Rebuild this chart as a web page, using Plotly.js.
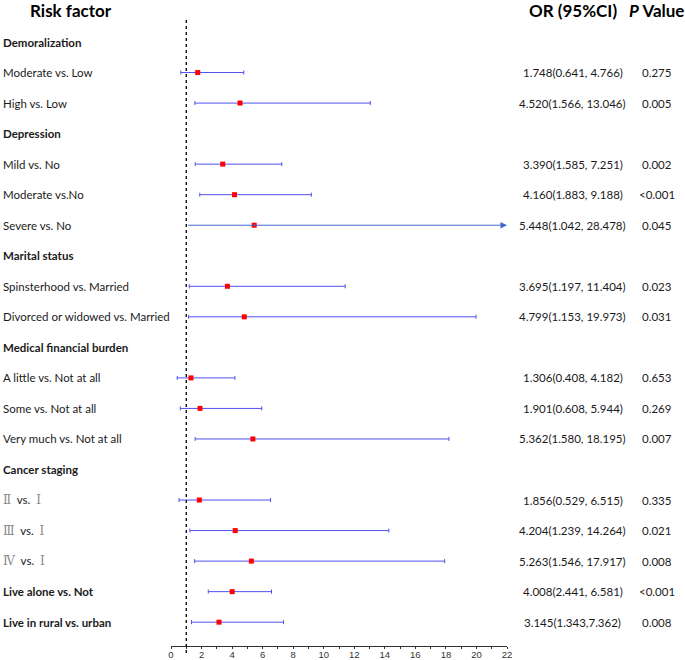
<!DOCTYPE html>
<html><head><meta charset="utf-8">
<script src="https://cdn.plot.ly/plotly-3.0.1.min.js"></script>
<style>body{margin:0;background:#fff}#chart{width:685px;height:660px}</style>
</head><body><div id="chart"></div>
<script>
const rowLabels = [
  "Demoralization", "Moderate vs. Low", "High vs. Low",
  "Depression", "Mild vs. No", "Moderate vs.No", "Severe vs. No",
  "Marital status", "Spinsterhood vs. Married", "Divorced or widowed vs. Married",
  "Medical financial burden", "A little vs. Not at all", "Some vs. Not at all", "Very much vs. Not at all",
  "Cancer staging", "Ⅱ vs.  Ⅰ", "Ⅲ vs.  Ⅰ", "Ⅳ vs.  Ⅰ",
  "Live alone vs. Not", "Live in rural vs. urban"
];
const boldRows = ["Demoralization", "Depression", "Marital status", "Medical financial burden",
  "Cancer staging", "Live alone vs. Not", "Live in rural vs. urban"];
const orVals = [null, 1.748, 4.520, null, 3.390, 4.160, 5.448, null, 3.695, 4.799,
  null, 1.306, 1.901, 5.362, null, 1.856, 4.204, 5.263, 4.008, 3.145];
const loVals = [null, 0.641, 1.566, null, 1.585, 1.883, 1.042, null, 1.197, 1.153,
  null, 0.408, 0.608, 1.580, null, 0.529, 1.239, 1.546, 2.441, 1.343];
const hiVals = [null, 4.766, 13.046, null, 7.251, 9.188, 28.478, null, 11.404, 19.973,
  null, 4.182, 5.944, 18.195, null, 6.515, 14.264, 17.917, 6.581, 7.362];
const orLabels = ["", "1.748(0.641, 4.766)", "4.520(1.566, 13.046)", "", "3.390(1.585, 7.251)",
  "4.160(1.883, 9.188)", "5.448(1.042, 28.478)", "", "3.695(1.197, 11.404)", "4.799(1.153, 19.973)",
  "", "1.306(0.408, 4.182)", "1.901(0.608, 5.944)", "5.362(1.580, 18.195)", "",
  "1.856(0.529, 6.515)", "4.204(1.239, 14.264)", "5.263(1.546, 17.917)", "4.008(2.441, 6.581)", "3.145(1.343,7.362)"];
const pLabels = ["", "0.275", "0.005", "", "0.002", "<0.001", "0.045", "", "0.023", "0.031",
  "", "0.653", "0.269", "0.007", "", "0.335", "0.021", "0.008", "<0.001", "0.008"];
const xTicks = [0, 2, 4, 6, 8, 10, 12, 14, 16, 18, 20, 22];
const refLine = 1;

const XMAX = 22;
const rows = rowLabels.map((_, i) => i);
const idx = rows.filter(i => orVals[i] !== null);
const inRange = idx.filter(i => hiVals[i] <= XMAX);
const outRange = idx.filter(i => hiVals[i] > XMAX);

const lineBlue = '#5050f0';
const traces = [
  {
    type: 'scatter', mode: 'markers',
    x: inRange.map(i => orVals[i]), y: inRange,
    marker: {symbol: 'square', size: 5, color: '#ff0000'},
    error_x: {type: 'data', symmetric: false,
      array: inRange.map(i => hiVals[i] - orVals[i]),
      arrayminus: inRange.map(i => orVals[i] - loVals[i]),
      color: lineBlue, thickness: 1, width: 2},
    hoverinfo: 'skip', showlegend: false
  }
];
const annotations = [];
outRange.forEach(i => {
  annotations.push({x: XMAX, y: i, xref: 'x', yref: 'y', ax: loVals[i], ay: i, axref: 'x', ayref: 'y',
    showarrow: true, arrowhead: 2, arrowsize: 1.3, arrowwidth: 1, arrowcolor: '#4466d0', text: ''});
});
traces.push({
  type: 'scatter', mode: 'markers', x: outRange.map(i => orVals[i]), y: outRange,
  marker: {symbol: 'square', size: 5, color: '#ff0000'}, hoverinfo: 'skip', showlegend: false
});

const lblFont = {family: 'Lato, "Noto Sans", sans-serif', size: 11.5, color: '#1a1a1a'};
function fmtLabel(s) {
  return s.replace(/ {2}/g, '\u00a0 ')
          .replace(/([Ⅰ-Ⅻ])/g, '<span style="font-family:\'DejaVu Serif\';font-size:12px;color:#8a8a8a">$1</span>')
          .replace(/<\/span> vs\./g, '</span>\u00a0 vs.');
}
rows.forEach(i => {
  const b = boldRows.includes(rowLabels[i]);
  annotations.push({xref: 'paper', yref: 'y', x: -0.506, y: i, xanchor: 'left', yanchor: 'middle',
    text: b ? '<b>' + rowLabels[i] + '</b>' : fmtLabel(rowLabels[i]), showarrow: false, font: lblFont});
  if (orLabels[i]) {
    annotations.push({xref: 'paper', yref: 'y', x: 1.196, y: i, xanchor: 'center', yanchor: 'middle',
      text: orLabels[i], showarrow: false, font: lblFont});
    annotations.push({xref: 'paper', yref: 'y', x: 1.446, y: i, xanchor: 'center', yanchor: 'middle',
      text: pLabels[i], showarrow: false, font: lblFont});
  }
});
const hdrFont = {family: 'Lato, "Noto Sans", sans-serif', size: 17, color: '#000'};
annotations.push({xref: 'paper', yref: 'paper', x: (71 - 171) / 336, y: 1.0127, xanchor: 'center', yanchor: 'middle',
  text: '<b>Risk factor</b>', showarrow: false, font: hdrFont});
annotations.push({xref: 'paper', yref: 'paper', x: 1.196, y: 1.0127, xanchor: 'center', yanchor: 'middle',
  text: '<b>OR (95%CI)</b>', showarrow: false, font: hdrFont});
annotations.push({xref: 'paper', yref: 'paper', x: 1.446, y: 1.0127, xanchor: 'center', yanchor: 'middle',
  text: '<b><i>P</i> Value</b>', showarrow: false, font: hdrFont});

const layout = {
  width: 685, height: 660,
  margin: {l: 171, r: 178, t: 18, b: 14},
  paper_bgcolor: '#fff', plot_bgcolor: '#fff',
  xaxis: {range: [0, XMAX], tickvals: xTicks, showgrid: false, zeroline: false,
    showline: true, linecolor: '#333', linewidth: 1, ticks: 'outside', ticklen: 2, tickcolor: '#333',
    minor: {dtick: 1, ticks: 'outside', ticklen: 2, tickcolor: '#333', showgrid: false},
    tickfont: {family: '"Liberation Sans", Arial, sans-serif', size: 9.5, color: '#333'},
    ticklabelstandoff: -2,
    automargin: false, fixedrange: true},
  yaxis: {range: [19.78, -0.786], visible: false, showgrid: false, zeroline: false, fixedrange: true},
  shapes: [{type: 'line', xref: 'x', yref: 'paper', x0: refLine, x1: refLine, y0: -0.011, y1: 0.997,
    line: {color: '#000', width: 1.3, dash: 'dot'}}],
  annotations: annotations,
  showlegend: false
};
Plotly.newPlot('chart', traces, layout, {displayModeBar: false, staticPlot: true});
</script></body></html>
